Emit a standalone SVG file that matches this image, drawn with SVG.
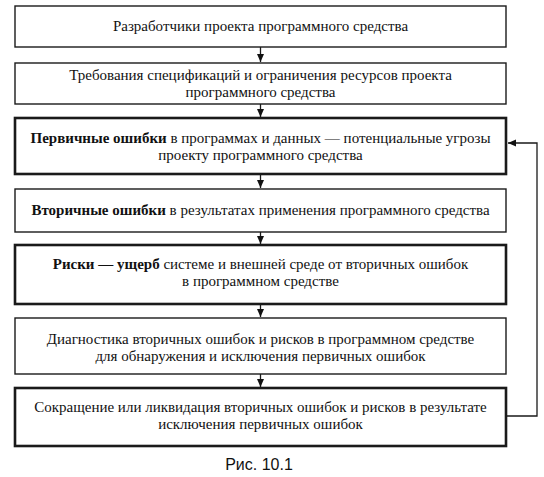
<svg xmlns="http://www.w3.org/2000/svg" width="544" height="477" viewBox="0 0 544 477">
<style>
.box{fill:#fff;stroke:#1a1a1a;stroke-width:1.4}
.bold{stroke-width:2.6}
.t{font-family:"Liberation Serif","Times New Roman",serif;font-size:15px;fill:#111;text-anchor:middle}
.b{font-weight:bold}
.cap{font-family:"Liberation Sans",Arial,sans-serif;font-size:16px;fill:#111;text-anchor:middle}
.con{fill:none;stroke:#1a1a1a;stroke-width:1.3}
</style>
<defs>
<marker id="ah" viewBox="0 0 8 8" refX="8" refY="4" markerWidth="8" markerHeight="8" markerUnits="userSpaceOnUse" orient="auto">
<path d="M0,0.5 L8,4 L0,7.5 Z" fill="#111"/>
</marker>
</defs>
<rect width="544" height="477" fill="#fff"/>
<g id="n1"><rect class="box" x="15" y="6" width="491" height="41"/>
<text class="t" x="260.5" y="31">Разработчики проекта  программного средства</text></g>
<g id="n2"><rect class="box" x="15" y="63" width="491" height="41"/>
<text class="t" x="260.5" y="80">Требования спецификаций и ограничения ресурсов проекта</text>
<text class="t" x="260.5" y="97">программного средства</text></g>
<g id="n3"><rect class="box bold" x="15" y="118" width="491" height="56"/>
<text class="t" x="260.5" y="143"><tspan class="b">Первичные ошибки</tspan> в программах и данных — потенциальные угрозы</text>
<text class="t" x="260.5" y="160">проекту программного средства</text></g>
<g id="n4"><rect class="box" x="15" y="189" width="491" height="43"/>
<text class="t" x="260.5" y="215"><tspan class="b">Вторичные ошибки</tspan> в результатах применения программного средства</text></g>
<g id="n5"><rect class="box bold" x="15" y="245" width="491" height="59"/>
<text class="t" x="260.5" y="269"><tspan class="b">Риски — ущерб</tspan> системе и внешней среде от вторичных ошибок</text>
<text class="t" x="260.5" y="286">в программном средстве</text></g>
<g id="n6"><rect class="box" x="15" y="318" width="491" height="56"/>
<text class="t" x="260.5" y="344">Диагностика вторичных ошибок и рисков в программном средстве</text>
<text class="t" x="260.5" y="361">для обнаружения и исключения первичных ошибок</text></g>
<g id="n7"><rect class="box bold" x="15" y="388" width="491" height="58"/>
<text class="t" x="260.5" y="412">Сокращение или ликвидация вторичных ошибок и рисков в результате</text>
<text class="t" x="260.5" y="429">исключения первичных ошибок</text></g>
<g id="connectors">
<line class="con" x1="260.5" y1="47" x2="260.5" y2="62" marker-end="url(#ah)"/>
<line class="con" x1="260.5" y1="104" x2="260.5" y2="117" marker-end="url(#ah)"/>
<line class="con" x1="260.5" y1="174" x2="260.5" y2="188" marker-end="url(#ah)"/>
<line class="con" x1="260.5" y1="232" x2="260.5" y2="244" marker-end="url(#ah)"/>
<line class="con" x1="260.5" y1="304" x2="260.5" y2="317" marker-end="url(#ah)"/>
<line class="con" x1="260.5" y1="374" x2="260.5" y2="387" marker-end="url(#ah)"/>
<polyline class="con" points="506,416 537,416 537,143 508,143" marker-end="url(#ah)"/>
</g>
<text class="cap" x="259" y="470">Рис. 10.1</text>
</svg>
